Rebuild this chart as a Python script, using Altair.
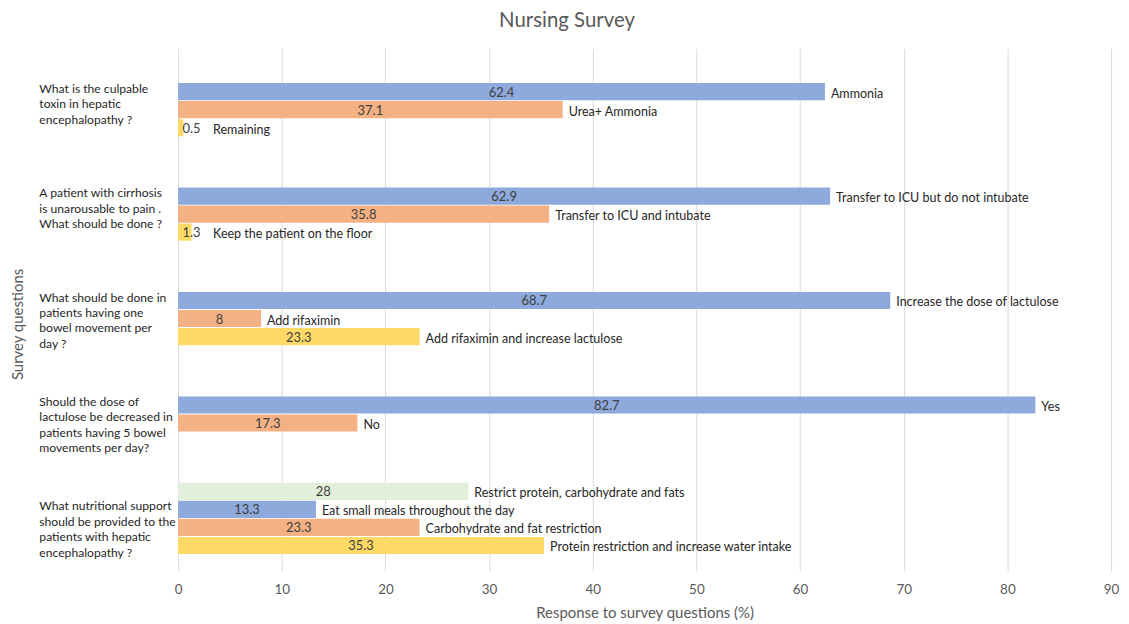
import altair as alt
import pandas as pd

questions = [
    "What is the culpable|toxin in  hepatic|encephalopathy ?",
    "A patient with cirrhosis|is unarousable to pain .|What should be done ?",
    "What should be done in|patients having one|bowel movement per|day ?",
    "Should the dose of|lactulose be decreased in|patients having 5 bowel|movements per day?",
    "What nutritional support|should be provided to the|patients with hepatic|encephalopathy ?",
]

series = ["green", "blue", "orange", "yellow"]
colors = ["#E2EFDA", "#8EA9DB", "#F4B183", "#FFD966"]

values_green = [None, None, None, None, 28]
labels_green = [None, None, None, None, "Restrict protein, carbohydrate and fats"]

values_blue = [62.4, 62.9, 68.7, 82.7, 13.3]
labels_blue = ["Ammonia", "Transfer to ICU but do not intubate",
               "Increase the dose of lactulose", "Yes",
               "Eat small meals throughout the day"]

values_orange = [37.1, 35.8, 8, 17.3, 23.3]
labels_orange = ["Urea+ Ammonia", "Transfer to ICU and intubate", "Add rifaximin",
                 "No", "Carbohydrate and fat restriction"]

values_yellow = [0.5, 1.3, 23.3, None, 35.3]
labels_yellow = ["Remaining", "Keep the patient on the floor",
                 "Add rifaximin and increase lactulose", None,
                 "Protein restriction and increase water intake"]

rows = []
for s, vals, labs in [("green", values_green, labels_green),
                      ("blue", values_blue, labels_blue),
                      ("orange", values_orange, labels_orange),
                      ("yellow", values_yellow, labels_yellow)]:
    for q, v, l in zip(questions, vals, labs):
        if v is not None:
            rows.append({"question": q, "series": s, "value": v, "label": l})
df = pd.DataFrame(rows)

FONT = "Lato"
GRAY = "#595959"

y_enc = alt.Y("question:N", sort=questions,
              scale=alt.Scale(domain=questions, paddingInner=0, paddingOuter=0),
              axis=alt.Axis(title="Survey questions", labelExpr="split(datum.label, '|')",
                            labelAlign="left", labelPadding=140, labelFontSize=12.2,
                            labelLineHeight=15.5, labelColor="#262626", labelFont=FONT,
                            labelBaseline="middle", labelOffset=-12, ticks=False, domain=False,
                            grid=False,
                            titleFont=FONT, titleFontSize=15, titleFontWeight="normal",
                            titleColor=GRAY, titleX=-161, titleY=277, titleAngle=-90,
                            titleBaseline="middle", titleAlign="center"))
yoff = alt.YOffset("series:N", scale=alt.Scale(domain=series, paddingInner=0.05, paddingOuter=0.92))
color = alt.Color("series:N", scale=alt.Scale(domain=series, range=colors), legend=None)

x_enc = alt.X("value:Q", scale=alt.Scale(domain=[0, 90], nice=False),
              axis=alt.Axis(title="Response to survey questions (%)", values=list(range(0, 91, 10)),
                            grid=True, gridColor="#D9D9D9", ticks=False, domain=False,
                            labelFlush=False,
                            labelFont=FONT, labelFontSize=13.5, labelColor=GRAY, labelPadding=12,
                            titleFont=FONT, titleFontSize=15, titleFontWeight="normal",
                            titleColor=GRAY, titlePadding=10))

base = alt.Chart(df)

bars = base.mark_bar().encode(y=y_enc, yOffset=yoff, x=x_enc, color=color)

vals = base.transform_calculate(
    vx="max(datum.value / 2, 1.3)"
).mark_text(font=FONT, fontSize=13, color="#404040", align="center", baseline="middle", dy=1).encode(
    y=alt.Y("question:N", sort=questions), yOffset=yoff,
    x=alt.X("vx:Q"), text=alt.Text("value:Q"))

cats = base.transform_calculate(
    lx="max(datum.value, 2.8)"
).mark_text(font=FONT, fontSize=12.6, color="#262626", align="left", baseline="middle", dx=6, dy=2).encode(
    y=alt.Y("question:N", sort=questions), yOffset=yoff,
    x=alt.X("lx:Q"), text="label:N")

chart = alt.layer(bars, vals, cats).properties(
    width=938, height=525,
    title=alt.TitleParams("Nursing Survey", font=FONT, fontSize=20.5, fontWeight="normal",
                          color=GRAY, anchor="middle", dx=-78, offset=17),
    autosize=alt.AutoSizeParams(type="none"),
    padding={"left": 171, "top": 39, "right": 10, "bottom": 50},
).configure_view(stroke=None)

chart.save("out.html", embed_options={"renderer": "svg", "actions": False})
